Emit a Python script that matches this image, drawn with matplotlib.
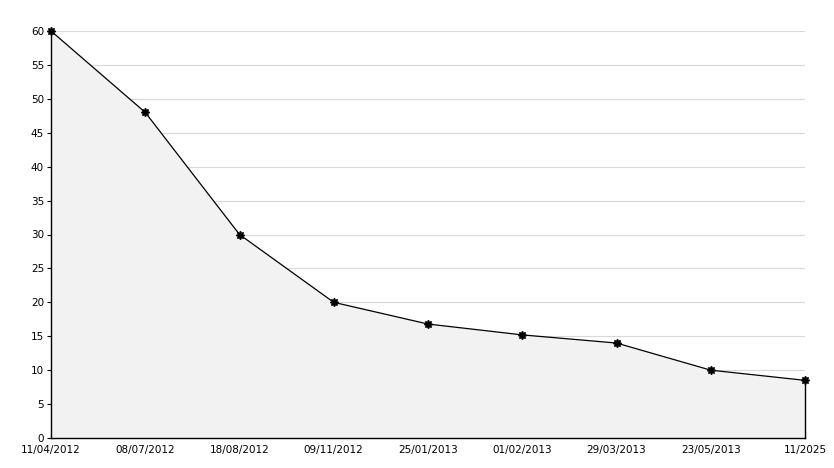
import matplotlib
matplotlib.use("Agg")
import matplotlib.pyplot as plt
from matplotlib.ticker import MultipleLocator

dates = ["11/04/2012", "08/07/2012", "18/08/2012", "09/11/2012", "25/01/2013",
         "01/02/2013", "29/03/2013", "23/05/2013", "11/2025"]
values = [60, 48, 30, 20, 16.8, 15.2, 14.0, 10.0, 8.5]

plt.rcParams['font.family'] = ['DejaVu Sans']
fig = plt.figure(figsize=(8.34, 4.68), dpi=100)
ax = fig.add_axes([51/834, 30/468, (805-51)/834, (438-31)/468])

x = list(range(len(dates)))
ax.fill_between(x, values, 0, color="#f2f2f2", lw=0, zorder=1)
ax.plot([x[-1], x[-1]], [0, values[-1]], color="black", lw=1.0, zorder=4, clip_on=False)
ax.plot(x, values, color="black", lw=0.9, marker=(8, 1, 0), ms=6, zorder=5, clip_on=False)

ax.set_xlim(0, len(dates) - 1)
ax.set_ylim(0, 60)
ax.yaxis.set_major_locator(MultipleLocator(5))
ax.yaxis.set_minor_locator(MultipleLocator(1))
ax.set_xticks(x)
ax.set_xticklabels(dates)
ax.grid(axis="y", color="#d9d9d9", lw=0.8, zorder=0)
ax.set_axisbelow(True)

for s in ["top", "right"]:
    ax.spines[s].set_visible(False)
for s in ["left", "bottom"]:
    ax.spines[s].set_linewidth(1.0)
    ax.spines[s].set_zorder(6)

ax.tick_params(axis="y", which="major", direction="inout", length=6, width=0.8, labelsize=7.5, pad=2)
ax.tick_params(axis="y", which="minor", direction="in", length=3, width=0.8)
ax.tick_params(axis="x", which="major", direction="in", length=5, width=0.8, labelsize=7.5, pad=5)

fig.savefig("out.png", dpi=100)
